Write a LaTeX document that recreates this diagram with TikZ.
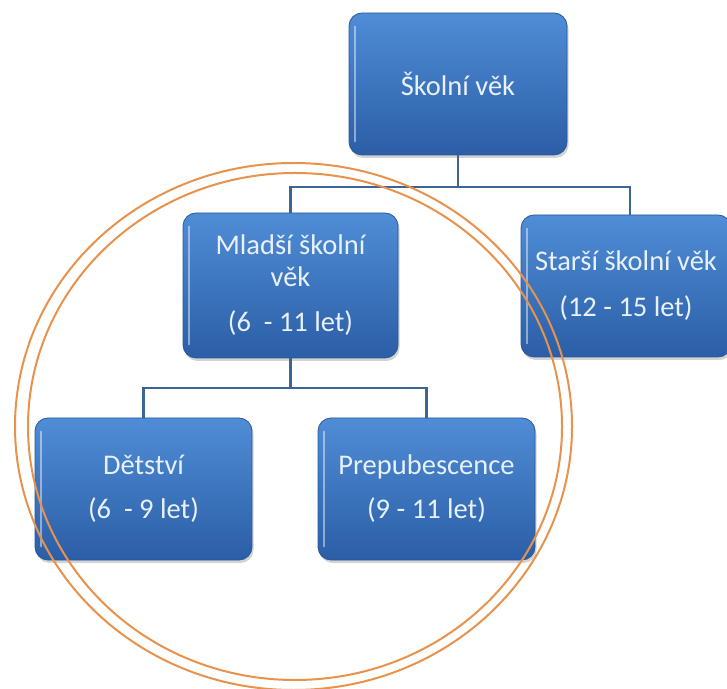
\documentclass[tikz,border=0pt]{standalone}
\usepackage{fontspec}
\setmainfont{Carlito}
\usetikzlibrary{shadows}
\definecolor{boxtop}{HTML}{4F8DD6}
\definecolor{boxbot}{HTML}{2B5EA6}
\definecolor{boxedge}{HTML}{2A5896}
\definecolor{linecol}{HTML}{3D6494}
\definecolor{ringcol}{HTML}{E8924C}
\definecolor{txtcol}{HTML}{E8F0FA}
\begin{document}
\begin{tikzpicture}[x=1pt,y=1pt,
  orgbox/.style={rectangle, rounded corners=13pt, draw=boxedge, line width=0.8pt,
    top color=boxtop, bottom color=boxbot, text=txtcol, align=center,
    inner sep=0pt, font=\fontsize{28.5}{32}\selectfont,
    drop shadow={opacity=0.35, shadow xshift=1.5pt, shadow yshift=-3pt}},
  stripe/.style={line width=2pt, white, opacity=0.45, line cap=round},
  conn/.style={draw=linecol, line width=2.2pt},
  ring/.style={draw=ringcol, line width=2pt}]
\useasboundingbox (0,0) rectangle (727,688);

\coordinate (j1) at (458,501);
\coordinate (j2) at (290.5,300);

\node[orgbox, minimum width=218pt, minimum height=142pt] (top) at (458,604) {Školní věk};
\node[orgbox, minimum width=215pt, minimum height=145pt] (mladsi) at (290.5,402.5)
  {Mladší školní\\věk\\[13pt](6~ - 11 let)};
\node[orgbox, minimum width=210pt, minimum height=142pt] (starsi) at (626,402)
  {Starší školní věk\\[14pt](12 - 15 let)};
\node[orgbox, minimum width=217pt, minimum height=142pt] (detstvi) at (143.5,199)
  {Dětství\\[12pt](6~ - 9 let)};
\node[orgbox, minimum width=217pt, minimum height=142pt] (prep) at (426.5,199)
  {Prepubescence\\[12pt](9 - 11 let)};

% light inner stripe on the left of each box
\foreach \b in {top,mladsi,starsi,detstvi,prep}{
  \draw[stripe] ([xshift=6pt,yshift=-14pt]\b.north west) -- ([xshift=6pt,yshift=14pt]\b.south west);
}

\draw[conn] (top.south) -- (j1) -| (mladsi.north);
\draw[conn] (j1) -| ([xshift=4pt]starsi.north);
\draw[conn] (mladsi.south) -- (j2) -| (detstvi.north);
\draw[conn] (j2) -| (prep.north);

% orange double ring
\draw[ring] (293.5,261.5) ellipse [x radius=278.5pt, y radius=263.5pt];
\draw[ring] (295,261.5) ellipse [x radius=267pt, y radius=253.5pt];
\end{tikzpicture}
\end{document}
